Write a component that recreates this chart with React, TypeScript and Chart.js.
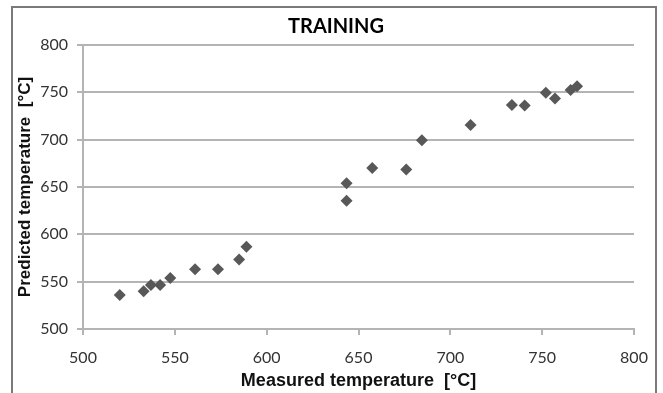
import { useEffect, useRef } from "react";
import { Chart, registerables } from "chart.js";

Chart.register(...registerables);

const measured = [520, 533, 537, 542, 547.5, 561, 573.5, 585, 589, 643.5, 643.5, 657.5, 676, 684.5, 711, 733.5, 740.5, 752, 757, 765.5, 769];
const predicted = [536, 540, 546.5, 546.5, 554, 563, 563, 573.5, 587, 635.5, 654, 670, 668.5, 699.5, 715.5, 736.5, 736, 749.5, 743.5, 752.5, 756.5];

const titleText = "TRAINING";
const xTitle = "Measured temperature  [°C]";
const yTitle = "Predicted temperature  [°C]";
const xMin = 500;
const xMax = 800;
const yMin = 500;
const yMax = 800;
const step = 50;

export default function App() {
  const ref = useRef<HTMLCanvasElement>(null);

  useEffect(() => {
    document.body.style.margin = "0";
    const frame = {
      id: "frame",
      afterDraw(chart: any) {
        const c = chart.ctx;
        c.save();
        c.strokeStyle = "#7a7a7a";
        c.lineWidth = 2;
        c.strokeRect(12, 7, 644, 400);
        c.restore();
      },
    };
    const gridColor = "#b4b4b4";
    const chart = new Chart(ref.current as HTMLCanvasElement, {
      type: "scatter",
      data: {
        datasets: [
          {
            data: measured.map((x, i) => ({ x, y: predicted[i] })),
            pointStyle: "rectRot",
            pointRadius: 6,
            backgroundColor: "#585858",
            borderColor: "#585858",
            borderWidth: 0,
          },
        ],
      },
      options: {
        responsive: false,
        animation: false,
        layout: { padding: { left: 38, right: 29, top: 0, bottom: 0 } },
        plugins: {
          legend: { display: false },
          tooltip: { enabled: false },
          title: {
            display: true,
            text: titleText,
            color: "#000",
            font: { family: "Lato", size: 20, weight: "bold" },
            padding: { top: 15, bottom: 6 },
          },
        },
        scales: {
          x: {
            type: "linear",
            min: xMin,
            max: xMax,
            ticks: {
              stepSize: step,
              padding: 13,
              color: "#333",
              font: { family: "Lato", size: 16 },
            },
            grid: { drawOnChartArea: false, drawTicks: true, tickLength: 6, color: gridColor, lineWidth: 2 },
            border: { color: gridColor, width: 2 },
            title: {
              display: true,
              text: xTitle,
              color: "#111",
              font: { family: "Liberation Sans", size: 18, weight: "bold" },
              padding: { top: 0, bottom: 1 },
            },
            afterFit: (s: any) => {
              s.height = 64;
            },
          },
          y: {
            type: "linear",
            min: yMin,
            max: yMax,
            ticks: {
              stepSize: step,
              padding: 9,
              color: "#333",
              font: { family: "Lato", size: 16 },
            },
            grid: { drawOnChartArea: true, drawTicks: true, tickLength: 6, color: gridColor, lineWidth: 2 },
            border: { color: gridColor, width: 2 },
            title: {
              display: true,
              text: yTitle,
              color: "#111",
              font: { family: "Liberation Sans", size: 17, weight: "bold" },
              padding: { top: -23, bottom: 0 },
            },
            afterFit: (s: any) => {
              s.width = 45;
            },
          },
        },
      },
      plugins: [frame],
    } as any);
    return () => chart.destroy();
  }, []);

  return <canvas ref={ref} width={663} height={393} style={{ display: "block" }} />;
}
